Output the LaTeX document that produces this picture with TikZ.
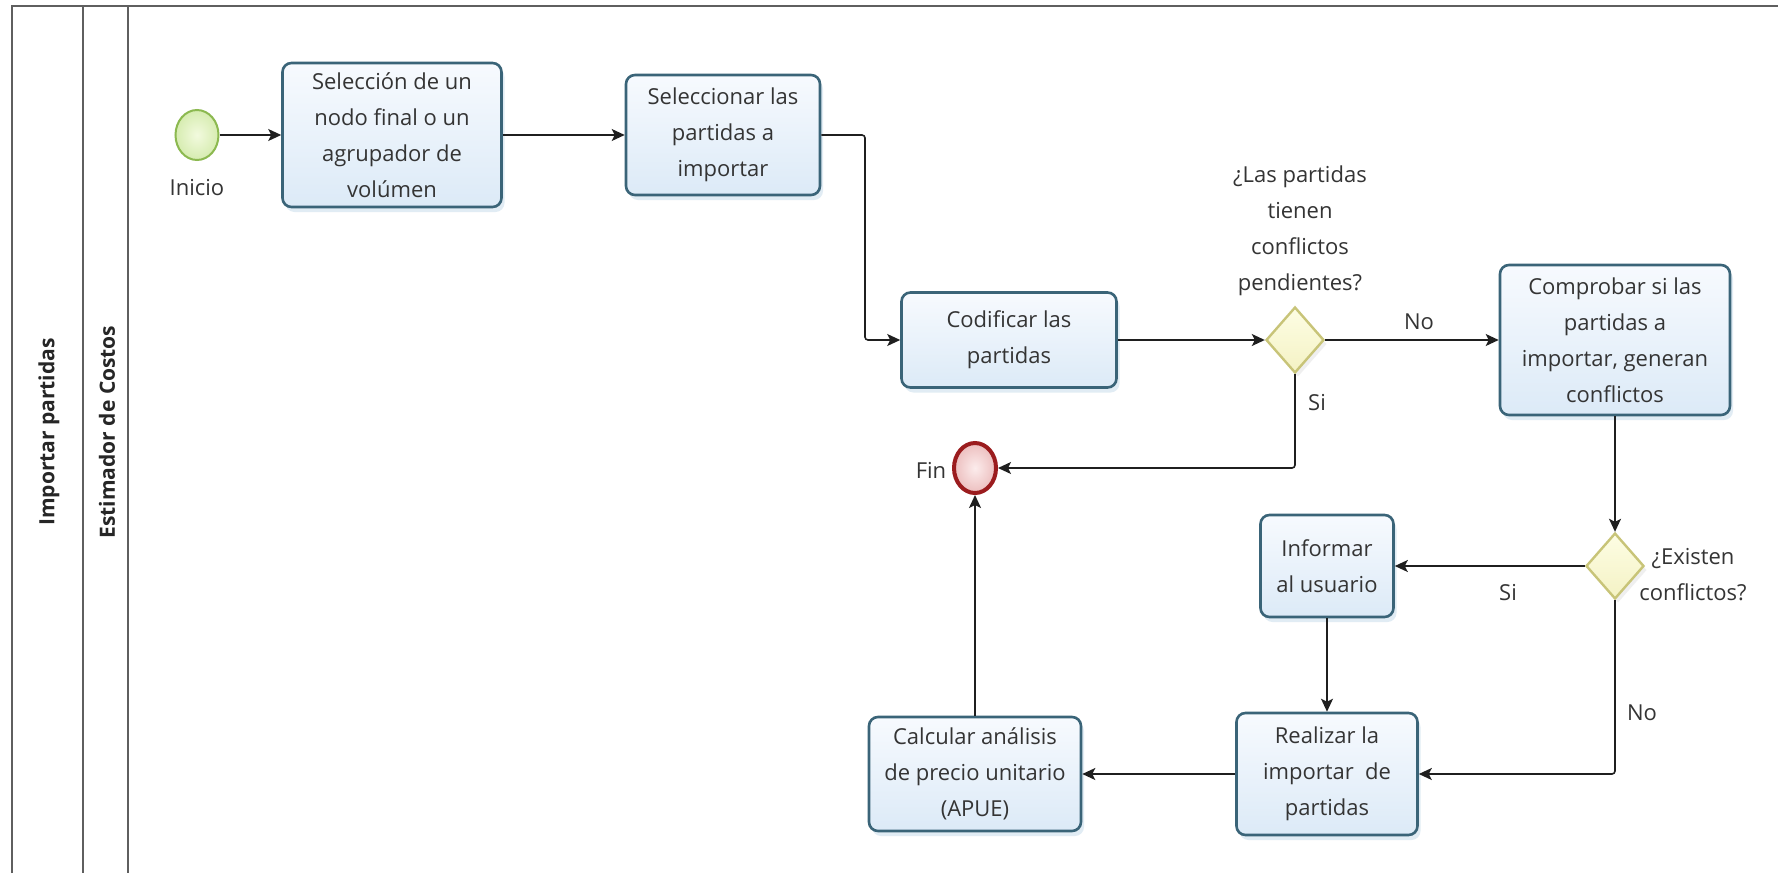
\documentclass[tikz,border=0pt]{standalone}
\usepackage{fontspec}
\setmainfont{Open Sans}
\usetikzlibrary{arrows.meta,shapes.geometric,shadows}

\definecolor{txt}{RGB}{52,52,52}
\definecolor{laneline}{RGB}{95,95,95}
\definecolor{taskline}{RGB}{58,100,120}
\definecolor{tasktop}{RGB}{247,250,254}
\definecolor{taskbot}{RGB}{220,234,247}
\definecolor{taskshadow}{RGB}{120,170,205}
\definecolor{gateline}{RGB}{200,196,120}
\definecolor{gatetop}{RGB}{253,253,228}
\definecolor{gatebot}{RGB}{244,242,196}
\definecolor{startline}{RGB}{140,185,80}
\definecolor{startin}{RGB}{242,250,222}
\definecolor{startout}{RGB}{214,236,176}
\definecolor{endline}{RGB}{155,28,30}
\definecolor{endin}{RGB}{252,236,236}
\definecolor{endout}{RGB}{236,190,190}

\tikzset{
  lane/.style={draw=laneline, line width=2},
  lanetitle/.style={rotate=90, font=\bfseries\fontsize{21}{26}\selectfont, text=black!85},
  task/.style={draw=taskline, line width=2.6, rounded corners=9,
    top color=tasktop, bottom color=taskbot, text=txt, align=center,
    inner sep=0, font=\fontsize{22}{36}\selectfont,
    drop shadow={shadow xshift=3pt, shadow yshift=-5pt, opacity=.22, fill=taskshadow}},
  gateway/.style={diamond, draw=gateline, line width=2.4, inner sep=0,
    top color=gatetop, bottom color=gatebot,
    minimum width=58, minimum height=66,
    drop shadow={shadow xshift=3pt, shadow yshift=-4pt, opacity=.15, fill=black!40}},
  startev/.style={ellipse, draw=startline, line width=2, inner sep=0,
    inner color=startin, outer color=startout, minimum width=43, minimum height=50},
  endev/.style={ellipse, draw=endline, line width=4, inner sep=0,
    inner color=endin, outer color=endout, minimum width=42, minimum height=50},
  lbl/.style={text=txt, align=center, inner sep=0, font=\fontsize{22}{36}\selectfont},
  flow/.style={draw=black!88, line width=1.6, rounded corners=3,
    -{Stealth[length=13pt, width=12pt, inset=3pt]}}
}

\begin{document}
\begin{tikzpicture}[x=1pt, y=-1pt]
  \useasboundingbox (0,0) rectangle (1778,873);
  \fill[white] (0,0) rectangle (1778,873);

  % pool and lane frame
  \draw[lane] (12,873) -- (12,6) -- (1778,6);
  \draw[lane] (83,6) -- (83,873);
  \draw[lane] (128,6) -- (128,873);
  \node[lanetitle] (pool) at (49,432) {Importar partidas};
  \node[lanetitle] (role) at (107,432) {Estimador de Costos};

  % events
  \node[startev] (start) at (197,135) {};
  \node[lbl, anchor=center] (startlbl) at (197,188) {Inicio};
  \node[endev] (fin) at (975,468) {};
  \node[lbl] (finlbl) at (931,470) {Fin};

  % tasks
  \node[task, minimum width=219, minimum height=144] (b1) at (392,135)
    {Selección de un\\nodo final o un\\agrupador de\\volúmen};
  \node[task, minimum width=194, minimum height=120] (b2) at (723,135)
    {Seleccionar las\\partidas a\\importar};
  \node[task, minimum width=215, minimum height=95] (b3) at (1009,340)
    {Codificar las\\partidas};
  \node[task, minimum width=230, minimum height=150] (b4) at (1615,340)
    {Comprobar si las\\partidas a\\importar, generan\\conflictos};
  \node[task, minimum width=133, minimum height=102] (b5) at (1327,566)
    {Informar\\al usuario};
  \node[task, minimum width=181, minimum height=122] (b6) at (1327,774)
    {Realizar la\\importar~ de\\partidas};
  \node[task, minimum width=212, minimum height=114] (b7) at (975,774)
    {Calcular análisis\\de precio unitario\\(APUE)};

  % gateways and their questions
  \node[gateway] (d1) at (1295,340) {};
  \node[lbl] (q1) at (1300,231)
    {¿Las partidas\\tienen\\conflictos\\pendientes?};
  \node[gateway] (d2) at (1615,566) {};
  \node[lbl] (q2) at (1693,575) {¿Existen\\conflictos?};

  % branch labels
  \node[lbl] (no1) at (1419,322) {No};
  \node[lbl] (si1) at (1317,403) {Si};
  \node[lbl] (si2) at (1508,593) {Si};
  \node[lbl] (no2) at (1642,713) {No};

  % sequence flows
  \coordinate (k1) at (865,135);
  \draw[flow] (start) -- (b1);
  \draw[flow] (b1) -- (b2);
  \draw[flow] (b2.east) -- (k1) |- (b3.west);
  \draw[flow] (b3) -- (d1);
  \draw[flow] (d1) -- (b4);
  \draw[flow] (d1.south) |- (fin.east);
  \draw[flow] (b4.south) -- (d2.north);
  \draw[flow] (d2.west) -- (b5.east);
  \draw[flow] (b5.south) -- (b6.north);
  \draw[flow] (d2.south) |- (b6.east);
  \draw[flow] (b6.west) -- (b7.east);
  \draw[flow] (b7.north) -- (fin.south);
\end{tikzpicture}
\end{document}
